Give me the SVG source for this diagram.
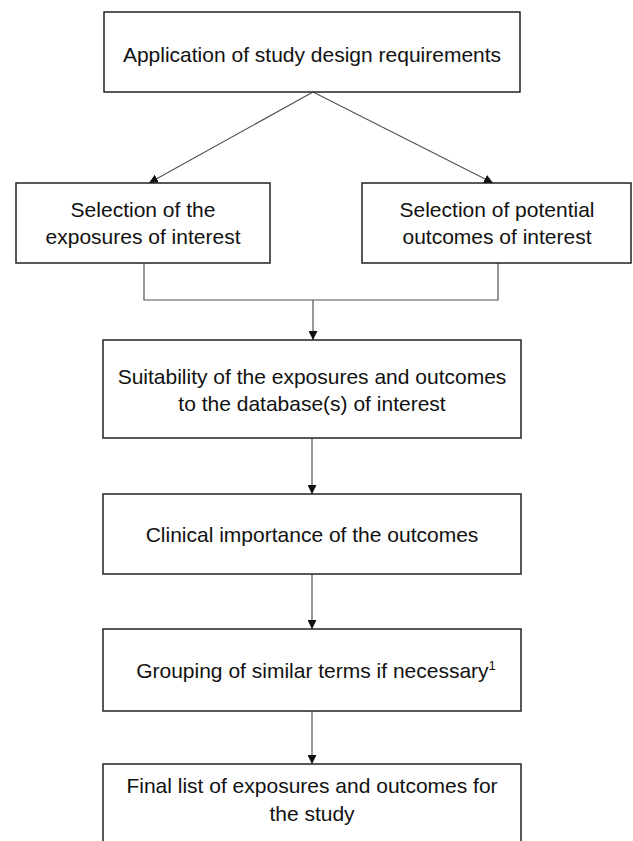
<svg xmlns="http://www.w3.org/2000/svg" width="633" height="841" viewBox="0 0 633 841">
<defs>
<marker id="arr" viewBox="0 0 10 10" refX="10" refY="5" markerWidth="9" markerHeight="9" markerUnits="userSpaceOnUse" orient="auto">
<path d="M0,0 L10,5 L0,10 z" fill="#111"/>
</marker>
<style>
.box{fill:#fff;stroke:#222;stroke-width:1.5}
.t{font-family:"Liberation Sans",Arial,sans-serif;font-size:21px;fill:#111;text-anchor:middle}
.c{fill:none;stroke:#555;stroke-width:1.2}
</style>
</defs>
<rect width="633" height="841" fill="#fff"/>
<g id="connectors">
<path class="c" d="M313,92 L149,183" marker-end="url(#arr)"/>
<path class="c" d="M313,92 L493,183" marker-end="url(#arr)"/>
<path class="c" d="M144,263 V300 H498 V263"/>
<path class="c" d="M313,300 V340" marker-end="url(#arr)"/>
<path class="c" d="M312,438 V494" marker-end="url(#arr)"/>
<path class="c" d="M312,574 V629" marker-end="url(#arr)"/>
<path class="c" d="M312,711 V764" marker-end="url(#arr)"/>
</g>
<g id="n1">
<rect class="box" x="104" y="12" width="416" height="80"/>
<text class="t" x="312" y="62">Application of study design requirements</text>
</g>
<g id="n2">
<rect class="box" x="16" y="183" width="254" height="80"/>
<text class="t" x="143" y="217">Selection of the</text>
<text class="t" x="143" y="244">exposures of interest</text>
</g>
<g id="n3">
<rect class="box" x="362" y="183" width="269" height="80"/>
<text class="t" x="497" y="217">Selection of potential</text>
<text class="t" x="497" y="244">outcomes of interest</text>
</g>
<g id="n4">
<rect class="box" x="103" y="340" width="418" height="98"/>
<text class="t" x="312" y="384">Suitability of the exposures and outcomes</text>
<text class="t" x="312" y="411">to the database(s) of interest</text>
</g>
<g id="n5">
<rect class="box" x="103" y="494" width="418" height="80"/>
<text class="t" x="312" y="542">Clinical importance of the outcomes</text>
</g>
<g id="n6">
<rect class="box" x="103" y="629" width="418" height="82"/>
<text class="t" x="316" y="678">Grouping of similar terms if necessary<tspan font-size="13" dy="-8">1</tspan></text>
</g>
<g id="n7">
<rect class="box" x="103" y="764" width="418" height="100"/>
<text class="t" x="312" y="793">Final list of exposures and outcomes for</text>
<text class="t" x="312" y="821">the study</text>
</g>
</svg>
